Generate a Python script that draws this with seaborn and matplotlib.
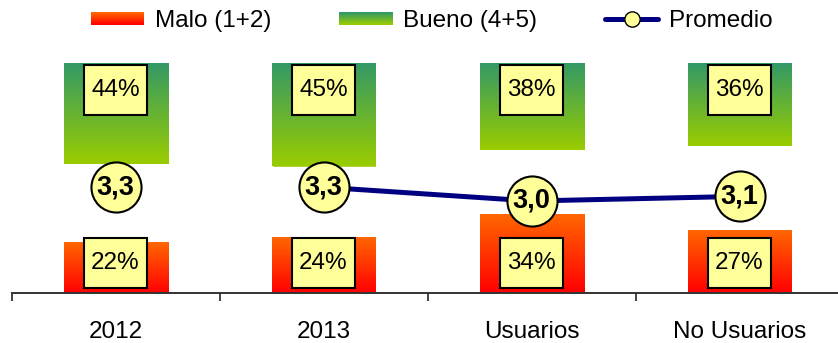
import numpy as np
import matplotlib
matplotlib.use("Agg")
import matplotlib.pyplot as plt
from matplotlib.colors import LinearSegmentedColormap, to_rgb
from matplotlib.patches import Rectangle
from matplotlib.legend_handler import HandlerBase
from matplotlib.lines import Line2D
import seaborn as sns

# datos
categorias = ["2012", "2013", "Usuarios", "No Usuarios"]
malo = [22, 24, 34, 27]          # Malo (1+2), %
bueno = [44, 45, 38, 36]         # Bueno (4+5), %
promedio = [3.3, 3.3, 3.0, 3.1]  # Promedio
unido = [False, True, True, True]  # 2012 queda suelto, la linea empieza en 2013

NARANJA, ROJO = "#FF6600", "#FF0000"
VERDE, LIMA = "#339966", "#99CC00"
AMARILLO = "#FFFF99"
AZUL = "#000080"

sns.set_theme(style="white")
plt.rcParams["font.family"] = ["Liberation Sans", "DejaVu Sans"]
plt.rcParams["text.color"] = "black"
plt.rcParams["xtick.labelcolor"] = "black"


def gradiente(ax, patch, c_arriba, c_abajo, y_arriba, y_abajo):
    # pinta la barra con un degradado vertical (fila 0 = borde de arriba en pantalla)
    n = 64
    t = np.linspace(0, 1, n)[:, None]
    a, b = np.array(to_rgb(c_arriba)), np.array(to_rgb(c_abajo))
    img = (a * (1 - t) + b * t)[:, None, :]
    x0, w = patch.get_x(), patch.get_width()
    ax.imshow(img, extent=(x0, x0 + w, y_abajo, y_arriba), origin="upper",
              aspect="auto", interpolation="bilinear", zorder=patch.get_zorder() + 0.1)


class ManejadorGradiente(HandlerBase):
    def __init__(self, c_arriba, c_abajo):
        super().__init__()
        self.cmap = LinearSegmentedColormap.from_list("g", [c_abajo, c_arriba])

    def create_artists(self, legend, orig_handle, xdescent, ydescent, width, height, fontsize, trans):
        n = 16
        h = height * 0.75
        y0 = -ydescent + (height - h) / 2
        return [Rectangle((-xdescent, y0 + k * h / n), width, h / n * 1.05,
                          facecolor=self.cmap(k / (n - 1)), edgecolor="none", transform=trans)
                for k in range(n)]


fig = plt.figure(figsize=(8.38, 3.43), dpi=100)
ax = fig.add_axes([11.5 / 838, 50 / 343, 832 / 838, 230 / 343])
axb = ax.twinx()
axp = ax.twinx()

pos = np.arange(len(categorias))

# Malo: desde abajo
sns.barplot(x=categorias, y=malo, width=0.5, color=ROJO, saturation=1, ax=ax)
for p in list(ax.patches):
    gradiente(ax, p, NARANJA, ROJO, p.get_height(), 0)

# Bueno: colgando desde arriba (eje invertido)
sns.barplot(x=categorias, y=bueno, width=0.5, color=LIMA, saturation=1, ax=axb)
for p in list(axb.patches):
    gradiente(axb, p, VERDE, LIMA, 0, p.get_height())

# etiquetas en cajas amarillas
for i, v in enumerate(malo):
    ax.add_patch(Rectangle((i - 0.15, 2), 0.3, 22, facecolor=AMARILLO, edgecolor="black", lw=1.5, zorder=5))
    ax.text(i, 13, f"{v}%", ha="center", va="center", fontsize=17.5, zorder=6)
for i, v in enumerate(bueno):
    axb.add_patch(Rectangle((i - 0.15, 0.8), 0.3, 22, facecolor=AMARILLO, edgecolor="black", lw=1.5, zorder=5))
    axb.text(i, 11.8, f"{v}%", ha="center", va="center", fontsize=17.5, zorder=6)

# Promedio
pm = np.array(promedio)
um = np.array(unido)
sns.lineplot(x=pos[um], y=pm[um], color=AZUL, lw=3.6, ax=axp, zorder=3)
sns.scatterplot(x=pos, y=pm, s=1300, color=AMARILLO, edgecolor="black", linewidth=1.5, ax=axp, zorder=4)
for i, v in enumerate(promedio):
    axp.text(i, v, f"{v:.1f}".replace(".", ","), ha="center", va="center",
             fontsize=19.5, fontweight="bold", zorder=6)

ax.set_ylim(0, 100)
axb.set_ylim(100, 0)
axp.set_ylim(1, 6)
ax.set_xlim(-0.5, len(categorias) - 0.5)

for a in (ax, axb, axp):
    a.set_yticks([])
    a.set_ylabel("")
    a.set_xlabel("")
    for s in ("top", "left", "right"):
        a.spines[s].set_visible(False)
axb.spines["bottom"].set_visible(False)
axp.spines["bottom"].set_visible(False)
ax.spines["bottom"].set_color("#333333")
ax.spines["bottom"].set_linewidth(1.4)

ax.set_xticks(np.arange(len(categorias) + 1) - 0.5)
ax.set_xticks(pos, minor=True)
ax.set_xticklabels(categorias, minor=True)
ax.tick_params(axis="x", which="major", bottom=True, length=6, width=1.3, color="#333333", labelbottom=False)
ax.tick_params(axis="x", which="minor", bottom=True, length=0, pad=20, labelsize=17.5, labelcolor="black")
ax.set_xlim(-0.5, len(categorias) - 0.5)

h_malo = Rectangle((0, 0), 1, 1)
h_bueno = Rectangle((0, 0), 1, 1)
h_prom = Line2D([], [], color=AZUL, lw=3.6, marker="o", markersize=11,
                markerfacecolor=AMARILLO, markeredgecolor="black")
fig.legend([h_malo, h_bueno, h_prom], ["Malo (1+2)", "Bueno (4+5)", "Promedio"],
           handler_map={h_malo: ManejadorGradiente(NARANJA, ROJO),
                        h_bueno: ManejadorGradiente(VERDE, LIMA)},
           loc="center", bbox_to_anchor=(0.515, 1 - 21 / 343), ncol=3, frameon=False,
           fontsize=17.5, handlelength=2.2, handletextpad=0.42, columnspacing=2.8)

fig.savefig("out.png", dpi=100)
